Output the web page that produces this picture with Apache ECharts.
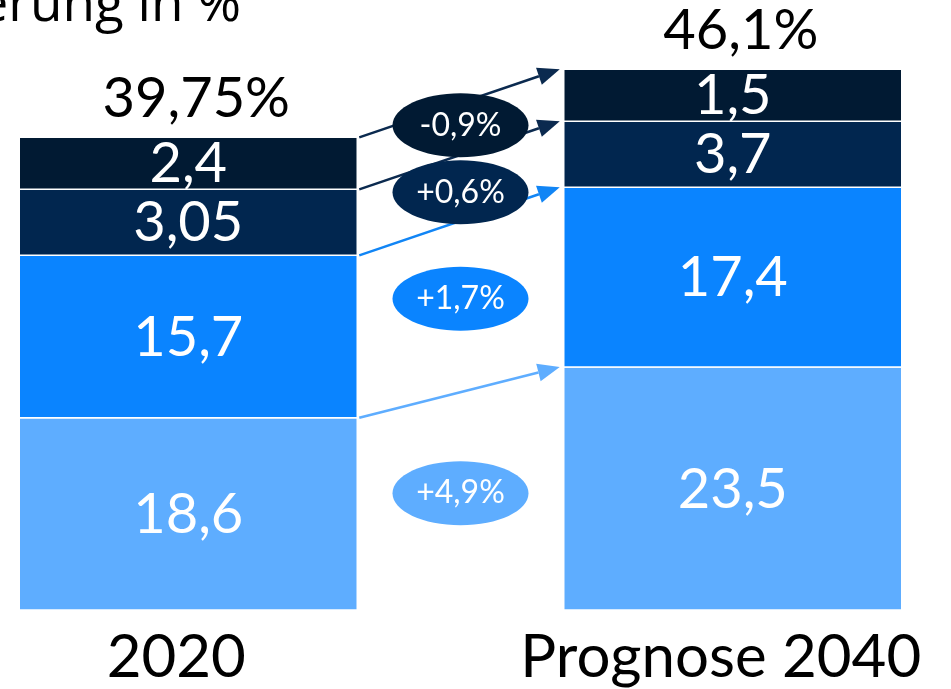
<!DOCTYPE html>
<html><head><meta charset="utf-8">
<script src="https://cdn.jsdelivr.net/npm/echarts@6/dist/echarts.min.js"></script>
<style>html,body{margin:0;padding:0;background:#fff;overflow:hidden}#c{width:951px;height:689px}</style>
</head><body><div id="c"></div>
<script>
// ---- data ----
const categories = ['2020', 'Prognose 2040'];
const seg1 = [18.6, 23.5];
const seg2 = [15.7, 17.4];
const seg3 = [3.05, 3.7];
const seg4 = [2.4, 1.5];
const totals = [39.75, 46.1];
const changes = ['+4,9%', '+1,7%', '+0,6%', '-0,9%'];
const titleText = 'Bevölkerung in %';

// ---- style ----
const colors = ['#5eadff', '#0a84ff', '#01264f', '#011a33'];
const arrowColors = ['#5eadff', '#1185f5', '#0b2a4f', '#0b2a4f'];
const minHeights = [0, 0, 66, 52];   // minimum drawn height per segment (like barMinHeight)
const BAR_W = 338;
const FONT = 'Lato, "Noto Sans", sans-serif';
const fmt = v => String(v).replace('.', ',');

// stacked layout: values scaled by the axis (k px per unit) with a minimum height per segment
function stackRects(vals, y0, k) {
  let y = y0; const out = [];
  for (let i = 0; i < vals.length; i++) {
    const h = Math.max(vals[i] * k, minHeights[i]);
    out.push({top: y - h, bot: y, mid: y - h / 2});
    y -= h;
  }
  return out;
}

const chart = echarts.init(document.getElementById('c'), null, {renderer: 'canvas'});

const rows = categories.map((c, j) => [j, seg1[j], seg2[j], seg3[j], seg4[j], totals[j]]);

function renderItem(params, api) {
  const base = api.coord([api.value(0), 0]);
  const k = api.size([0, 1])[1];
  const vals = [api.value(1), api.value(2), api.value(3), api.value(4)];
  const rects = stackRects(vals, base[1], k);
  const x = base[0] - BAR_W / 2;
  const children = [];
  rects.forEach((r, i) => {
    children.push({type: 'rect', shape: {x: x, y: r.top, width: BAR_W, height: r.bot - r.top},
      style: {fill: colors[i], stroke: '#fff', lineWidth: 1.5}});
    children.push({type: 'text', x: base[0], y: r.mid + 1,
      style: {text: fmt(vals[i]), fill: '#fff', font: '56px ' + FONT, align: 'center', verticalAlign: 'middle'}});
  });
  children.push({type: 'text', x: base[0] + 8, y: rects[3].top - 10,
    style: {text: fmt(api.value(5)) + '%', fill: '#000', font: '56px ' + FONT, align: 'center', verticalAlign: 'bottom'}});
  return {type: 'group', children: children};
}

chart.setOption({
  animation: false,
  grid: {left: -84, right: -54, top: 0, bottom: 79, containLabel: false, outerBoundsMode: 'none'},
  xAxis: {type: 'category', data: categories,
    axisLine: {show: false}, axisTick: {show: false},
    axisLabel: {color: '#000', fontFamily: FONT, fontSize: 60, margin: 18, padding: [0, 24, 0, 0]}},
  yAxis: {type: 'value', min: 0, max: 59, show: false},
  series: [{type: 'custom', data: rows, renderItem: renderItem, silent: true,
    encode: {x: 0, y: [1, 2, 3, 4]}}]
});

// ---- arrows and change bubbles from the same axis-based layout ----
const lay = categories.map((c, j) => {
  const p0 = chart.convertToPixel({gridIndex: 0}, [j, 0]);
  const p1 = chart.convertToPixel({gridIndex: 0}, [j, 1]);
  const k = p0[1] - p1[1];
  const rs = stackRects([seg1[j], seg2[j], seg3[j], seg4[j]], p0[1], k);
  return rs.map(r => Object.assign({left: p0[0] - BAR_W / 2, right: p0[0] + BAR_W / 2}, r));
});

const bubbleDy = [-8, -8, 4, -4];
const graphics = [];
graphics.push({type: 'text', x: 241, y: 6,
  style: {text: titleText, fill: '#000', font: '53px "Open Sans", sans-serif', align: 'right', verticalAlign: 'middle'}});
for (let i = 0; i < 4; i++) {
  const a = lay[0][i], b = lay[1][i];
  const x1 = a.right + 2, y1 = a.top, x2 = b.left - 4, y2 = b.top;
  const dx = x2 - x1, dy = y2 - y1, len = Math.hypot(dx, dy), ux = dx / len, uy = dy / len;
  const hl = 22, hw = 9;
  const bx = x2 - ux * hl, by = y2 - uy * hl;
  graphics.push({type: 'line', shape: {x1: x1, y1: y1, x2: bx, y2: by},
    style: {stroke: arrowColors[i], lineWidth: 2.5}, z: 10});
  graphics.push({type: 'polygon', shape: {points: [[x2, y2], [bx - uy * hw, by + ux * hw], [bx + uy * hw, by - ux * hw]]},
    style: {fill: arrowColors[i]}, z: 10});
}
for (let i = 0; i < 4; i++) {
  const a = lay[0][i], b = lay[1][i];
  const cx = (a.right + b.left) / 2, cy = (a.mid + b.mid) / 2 + bubbleDy[i];
  graphics.push({type: 'ellipse', shape: {cx: cx, cy: cy, rx: 68, ry: 32},
    style: {fill: colors[i]}, z: 20});
  graphics.push({type: 'text', x: cx, y: cy, z: 21,
    style: {text: changes[i], fill: '#fff', font: '32px ' + FONT, align: 'center', verticalAlign: 'middle'}});
}
chart.setOption({graphic: graphics});
</script></body></html>
